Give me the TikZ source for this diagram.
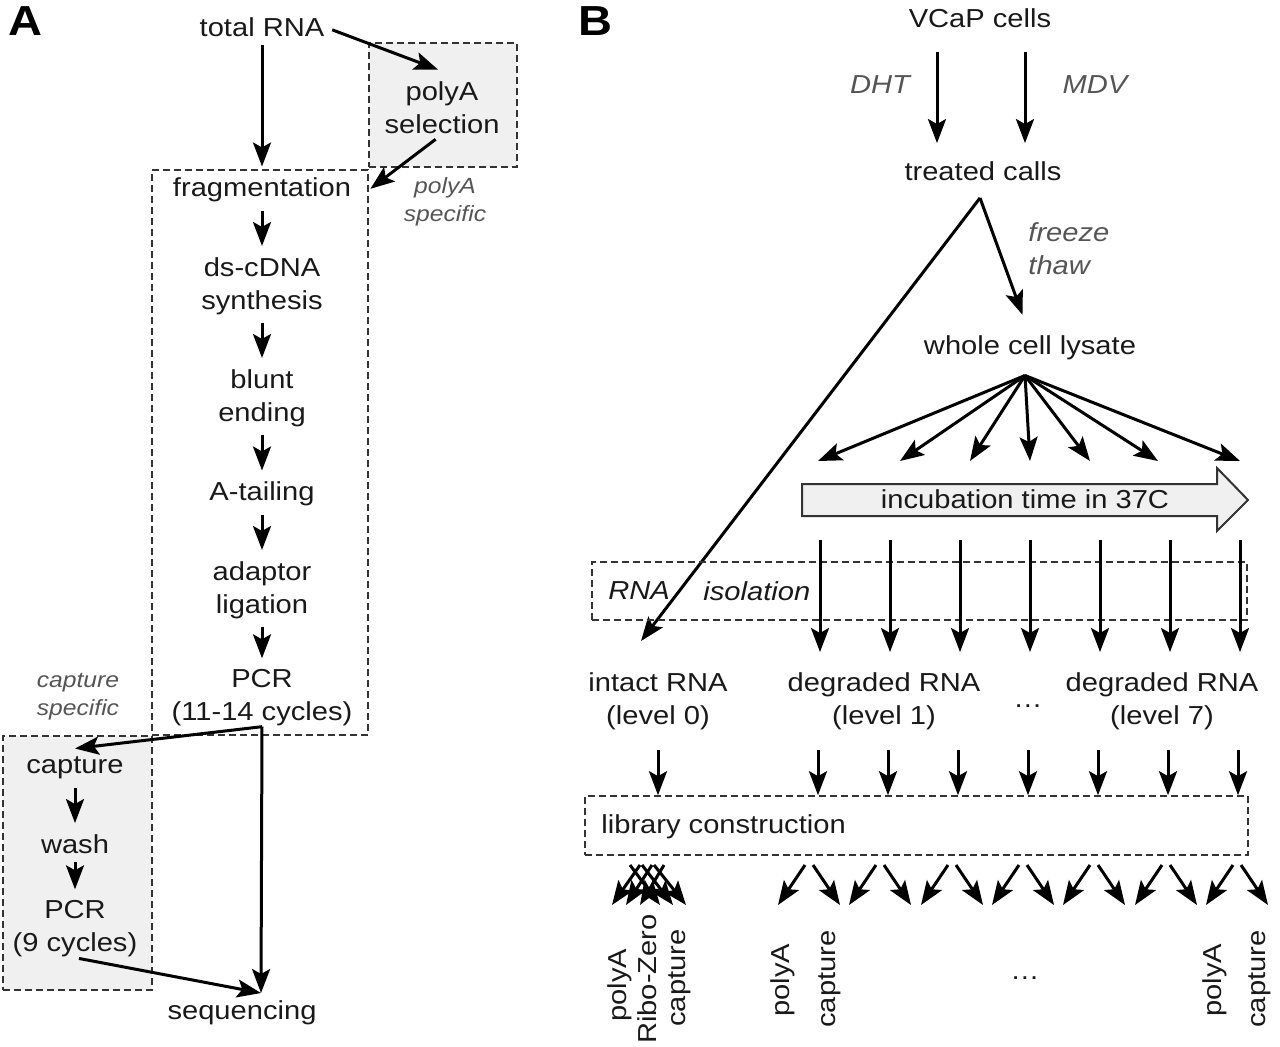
\documentclass[tikz,border=0pt]{standalone}
\usepackage{fontspec}
\setmainfont{Liberation Sans}[FakeStretch=1.12]
\usetikzlibrary{arrows.meta}
\definecolor{cuegray}{HTML}{555555}
\definecolor{boxgray}{HTML}{F0F0F0}
\definecolor{linegray}{HTML}{333333}
\tikzstyle{arrow} = [line width=1.5pt, -{Stealth[length=12pt,width=9pt,inset=2.5pt]}]
\tikzstyle{flow} = [arrow, shorten <=4pt, shorten >=5.5pt]
\tikzstyle{stage} = [inner sep=0pt, align=center, text=black!90,
  font=\fontsize{13}{16.5}\selectfont]
\tikzstyle{cue} = [stage, text=cuegray, font=\fontsize{13}{16.5}\selectfont\itshape]
\tikzstyle{note} = [stage, text=cuegray, font=\fontsize{11}{14}\selectfont\itshape]
\tikzstyle{dbox} = [draw=linegray, line width=0.8pt, dash pattern=on 3.5pt off 2pt,
  inner sep=0pt]
\tikzstyle{panel} = [inner sep=0pt, font=\fontsize{21}{24}\selectfont\bfseries]

\begin{document}
\begin{tikzpicture}[x=0.5pt, y=-0.5pt]
    \useasboundingbox (0,0) rectangle (1280,1046);

    % panel A
    \node[panel] (pa) at (25,21) {A};
    \node[dbox,fill=boxgray,minimum width=74pt,minimum height=62pt] (polybox) at (443,105) {};
    \node[dbox,minimum width=108pt,minimum height=282.5pt] (mainbox) at (260,452.5) {};
    \node[dbox,fill=boxgray,minimum width=74.5pt,minimum height=127pt] (captbox) at (77.5,863) {};

    \node[stage] (total) at (262,27) {total RNA};
    \node[stage] (polya) at (442,108) {polyA\\selection};
    \node[stage] (frag) at (262,190) {fragmentation};
    \node[stage] (cdna) at (262,286) {ds-cDNA\\synthesis};
    \node[stage] (blunt) at (262,398) {blunt\\ending};
    \node[stage] (atail) at (262,494) {A-tailing};
    \node[stage] (adapt) at (262,590) {adaptor\\ligation};
    \node[stage] (pcra) at (262,698) {PCR\\(11-14 cycles)};
    \node[stage] (capt) at (75,768) {capture};
    \node[stage] (wash) at (75,844) {wash};
    \node[stage] (pcrb) at (75,929) {PCR\\(9 cycles)};
    \node[stage] (seq) at (242,1013) {sequencing};
    \node[note] (polynote) at (445,202) {polyA\\specific};
    \node[note] (captnote) at (78,697) {capture\\specific};
    \coordinate (seqin) at (261,993);

    \draw[flow] (total) -- (frag);
    \draw[arrow, shorten <=4pt] (total.east) -- ([xshift=-2pt,yshift=6pt]polya.north);
    \draw[arrow, shorten <=4pt, shorten >=1pt] (polya.south) -- (mainbox.east |- frag);
    \draw[flow] (frag) -- (cdna);
    \draw[flow] (cdna) -- (blunt);
    \draw[flow] (blunt) -- (atail);
    \draw[flow] (atail) -- (adapt);
    \draw[flow] (adapt) -- (pcra);
    \draw[arrow] (pcra.south) -- ([yshift=4pt]capt.north);
    \draw[arrow] (pcra.south) -- (seqin);
    \draw[flow] (capt) -- (wash);
    \draw[flow] (wash) -- (pcrb);
    \draw[arrow, shorten <=2pt] (pcrb.south) -- (seqin);

    % panel B
    \node[panel] (pb) at (595,21) {B};
    \node[stage] (vcap) at (980,18) {VCaP cells};
    \node[stage] (treat) at (983,171) {treated calls};
    \node[cue] (dht) at (880,85) {DHT};
    \node[cue] (mdv) at (1095,85) {MDV};
    \draw[arrow, shorten <=12pt, shorten >=9pt] ([xshift=-21.5pt]vcap.south) -- ([xshift=-23pt]treat.north);
    \draw[arrow, shorten <=12pt, shorten >=9pt] ([xshift=22.5pt]vcap.south) -- ([xshift=21pt]treat.north);

    \coordinate (fork) at ([xshift=-1.5pt,yshift=-8.5pt]treat.south);
    \node[stage] (lysate) at (1030,348) {whole cell lysate};
    \node[cue, align=left, anchor=west] (freeze) at (1028,249) {freeze\\thaw};
    \node[stage] (intact) at (658,701) {intact RNA\\(level 0)};
    \node[stage] (deg1) at (884,701) {degraded RNA\\(level 1)};
    \node[stage] (dots) at (1028,706) {\dots};
    \node[stage] (deg7) at (1162,701) {degraded RNA\\(level 7)};
    \coordinate (intactin) at (641,641);
    \draw[arrow, shorten >=11pt] (fork) -- (lysate.north);
    \draw[arrow] (fork) -- (intactin);

    \coordinate (fan) at ([xshift=-2.5pt,yshift=-7.5pt]lysate.south);
    \foreach \x [count=\i] in {818,900,970,1030,1090,1158,1240} {
        \coordinate (inc\i) at (\x,461);
        \draw[arrow] (fan) -- (inc\i);
    }

    % incubation arrow
    \draw[draw=linegray, line width=1pt, fill=boxgray]
        (802,484) -- (1217,484) -- (1217,468) -- (1248,500) -- (1217,531)
        -- (1217,516) -- (802,516) -- cycle;
    \node[stage] (incub) at (1025,499) {incubation time in 37C};

    \node[dbox,minimum width=327.5pt,minimum height=29pt] (isobox) at (919.5,591) {};
    \node[stage, font=\fontsize{13}{16.5}\selectfont\itshape, anchor=west] (rna) at (608,591) {RNA};
    \node[stage, font=\fontsize{13}{16.5}\selectfont\itshape, anchor=west] (iso) at (703,591) {isolation};
    \foreach \x [count=\i] in {820,890,960,1030,1100,1170,1240} {
        \coordinate (top\i) at (\x,540);
        \coordinate (lvl\i) at (\x,652);
        \draw[arrow] (top\i) -- (lvl\i);
    }

    \node[dbox,minimum width=331.5pt,minimum height=29.5pt] (libbox) at (916.5,825.5) {};
    \node[stage, anchor=west] (libtext) at (601,827) {library construction};
    \draw[arrow, shorten <=10pt] (intact.south) -- (intact.south |- libbox.north);
    \foreach \x [count=\i] in {818,888,958,1028,1098,1168,1238} {
        \coordinate (lt\i) at (\x,750);
        \draw[arrow] (lt\i) -- (lt\i |- libbox.north);
    }

    % libraries
    \foreach \a/\b [count=\i] in {640/612,652/626,664/640,630/660,642/673,654/686} {
        \coordinate (ia\i) at (\a,865);
        \coordinate (ib\i) at (\b,905);
        \draw[arrow] (ia\i) -- (ib\i);
    }
    \foreach \c [count=\i] in {809,880,952,1023,1094,1166,1237} {
        \coordinate (dl\i) at (\c-4,865);
        \coordinate (dr\i) at (\c+4,865);
        \draw[arrow] (dl\i) -- ++(-27,40);
        \draw[arrow] (dr\i) -- ++(27,40);
    }
    \node[stage, rotate=90] (ipoly) at (620,985) {polyA};
    \node[stage, rotate=90] (iribo) at (647,979) {Ribo-Zero};
    \node[stage, rotate=90] (icapt) at (680,978) {capture};
    \node[stage, rotate=90] (dpoly1) at (783,980) {polyA};
    \node[stage, rotate=90] (dcapt1) at (830,979) {capture};
    \node[stage] (ldots) at (1025,978) {\dots};
    \node[stage, rotate=90] (dpoly7) at (1215,980) {polyA};
    \node[stage, rotate=90] (dcapt7) at (1260,979) {capture};
\end{tikzpicture}
\end{document}
